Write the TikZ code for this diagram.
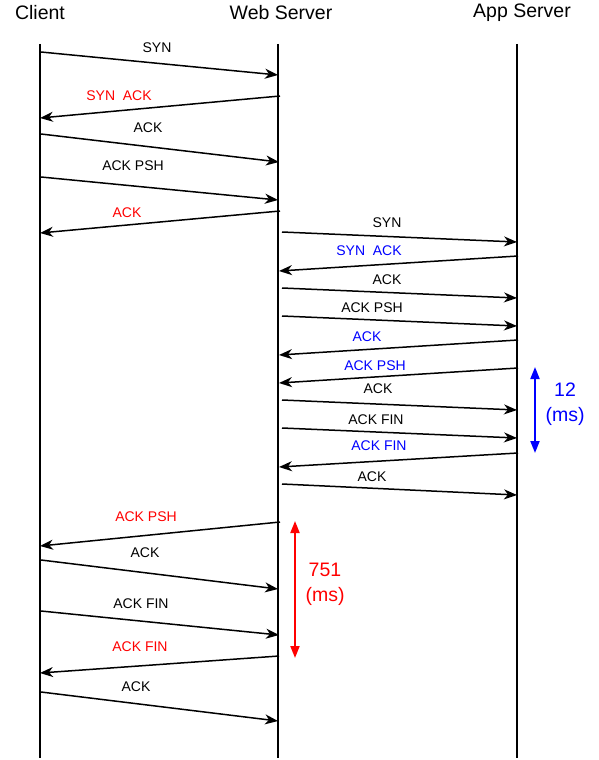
\documentclass[tikz,border=0pt]{standalone}
\usepackage{fontspec}
\setmainfont{Liberation Sans}
\usetikzlibrary{arrows.meta}
\begin{document}
\begin{tikzpicture}[x=1pt,y=-1pt,
  life/.style={line width=1.9pt},
  msg/.style={line width=1.5pt,-{Stealth[length=13pt,width=10pt,inset=4pt]}},
  lbl/.style={inner sep=0pt,font=\fontsize{14}{16}\selectfont},
  head/.style={inner sep=0pt,font=\fontsize{19.5}{22}\selectfont},
  dur/.style={line width=1.9pt,{Triangle[length=12pt,width=9pt]}-{Triangle[length=12pt,width=9pt]}},
  durlbl/.style={inner sep=0pt,align=center,font=\fontsize{19.5}{25}\selectfont}]
\useasboundingbox (0,0) rectangle (598,760);
% headers
\node[head] (hc) at (40,13) {Client};
\node[head] (hw) at (281,13) {Web Server};
\node[head] (ha) at (522,13) {App Server};
% lifelines
\coordinate (ct) at (40,44); \coordinate (cb) at (40,758);
\coordinate (wt) at (278,44); \coordinate (wb) at (278,758);
\coordinate (at) at (517,44); \coordinate (ab) at (517,758);
\draw[life] (ct) -- (cb);
\draw[life] (wt) -- (wb);
\draw[life] (at) -- (ab);
% client <-> web
\coordinate (m1s) at (41,52);  \coordinate (m1e) at (278,75);
\draw[msg] (m1s) -- (m1e); \node[lbl] (l1) at (157,48) {SYN};
\coordinate (m2s) at (280,96);  \coordinate (m2e) at (40,118);
\draw[msg] (m2s) -- (m2e); \node[lbl,text=red] (l2) at (119,96) {SYN\ \ ACK};
\coordinate (m3s) at (41,134);  \coordinate (m3e) at (279,162);
\draw[msg] (m3s) -- (m3e); \node[lbl] (l3) at (148,128) {ACK};
\coordinate (m4s) at (41,177);  \coordinate (m4e) at (278,200);
\draw[msg] (m4s) -- (m4e); \node[lbl] (l4) at (133,166) {ACK PSH};
\coordinate (m5s) at (280,211);  \coordinate (m5e) at (40,233);
\draw[msg] (m5s) -- (m5e); \node[lbl,text=red] (l5) at (127,213) {ACK};
% web <-> app
\coordinate (m6s) at (282,232);  \coordinate (m6e) at (517,242);
\draw[msg] (m6s) -- (m6e); \node[lbl] (l6) at (387,223) {SYN};
\coordinate (m7s) at (518,256);  \coordinate (m7e) at (279,271);
\draw[msg] (m7s) -- (m7e); \node[lbl,text=blue] (l7) at (369,251) {SYN\ \ ACK};
\coordinate (m8s) at (282,288);  \coordinate (m8e) at (517,298);
\draw[msg] (m8s) -- (m8e); \node[lbl] (l8) at (387,280) {ACK};
\coordinate (m9s) at (282,316);  \coordinate (m9e) at (517,326);
\draw[msg] (m9s) -- (m9e); \node[lbl] (l9) at (372,308) {ACK PSH};
\coordinate (m10s) at (518,340);  \coordinate (m10e) at (279,355);
\draw[msg] (m10s) -- (m10e); \node[lbl,text=blue] (l10) at (367,337) {ACK};
\coordinate (m11s) at (518,368);  \coordinate (m11e) at (279,383);
\draw[msg] (m11s) -- (m11e); \node[lbl,text=blue] (l11) at (375,366) {ACK PSH};
\coordinate (m12s) at (282,400);  \coordinate (m12e) at (517,410);
\draw[msg] (m12s) -- (m12e); \node[lbl] (l12) at (378,389) {ACK};
\coordinate (m13s) at (282,428);  \coordinate (m13e) at (517,438);
\draw[msg] (m13s) -- (m13e); \node[lbl] (l13) at (376,420) {ACK FIN};
\coordinate (m14s) at (518,453);  \coordinate (m14e) at (279,467);
\draw[msg] (m14s) -- (m14e); \node[lbl,text=blue] (l14) at (379,446) {ACK FIN};
\coordinate (m15s) at (282,484);  \coordinate (m15e) at (517,495);
\draw[msg] (m15s) -- (m15e); \node[lbl] (l15) at (372,477) {ACK};
% client <-> web, second half
\coordinate (m16s) at (280,522);  \coordinate (m16e) at (40,546);
\draw[msg] (m16s) -- (m16e); \node[lbl,text=red] (l16) at (146,517) {ACK PSH};
\coordinate (m17s) at (41,560);  \coordinate (m17e) at (278,589);
\draw[msg] (m17s) -- (m17e); \node[lbl] (l17) at (145,553) {ACK};
\coordinate (m18s) at (41,611);  \coordinate (m18e) at (279,635);
\draw[msg] (m18s) -- (m18e); \node[lbl] (l18) at (141,604) {ACK FIN};
\coordinate (m19s) at (279,656);  \coordinate (m19e) at (40,673);
\draw[msg] (m19s) -- (m19e); \node[lbl,text=red] (l19) at (140,647) {ACK FIN};
\coordinate (m20s) at (41,692);  \coordinate (m20e) at (278,721);
\draw[msg] (m20s) -- (m20e); \node[lbl] (l20) at (136,687) {ACK};
% durations
\coordinate (d1t) at (535,367); \coordinate (d1b) at (535,453);
\draw[dur,blue] (d1t) -- (d1b);
\node[durlbl,text=blue] (t1) at (565,404) {12\\(ms)};
\coordinate (d2t) at (295,521); \coordinate (d2b) at (295,658);
\draw[dur,red] (d2t) -- (d2b);
\node[durlbl,text=red] (t2) at (325,584) {751\\(ms)};
\end{tikzpicture}
\end{document}
